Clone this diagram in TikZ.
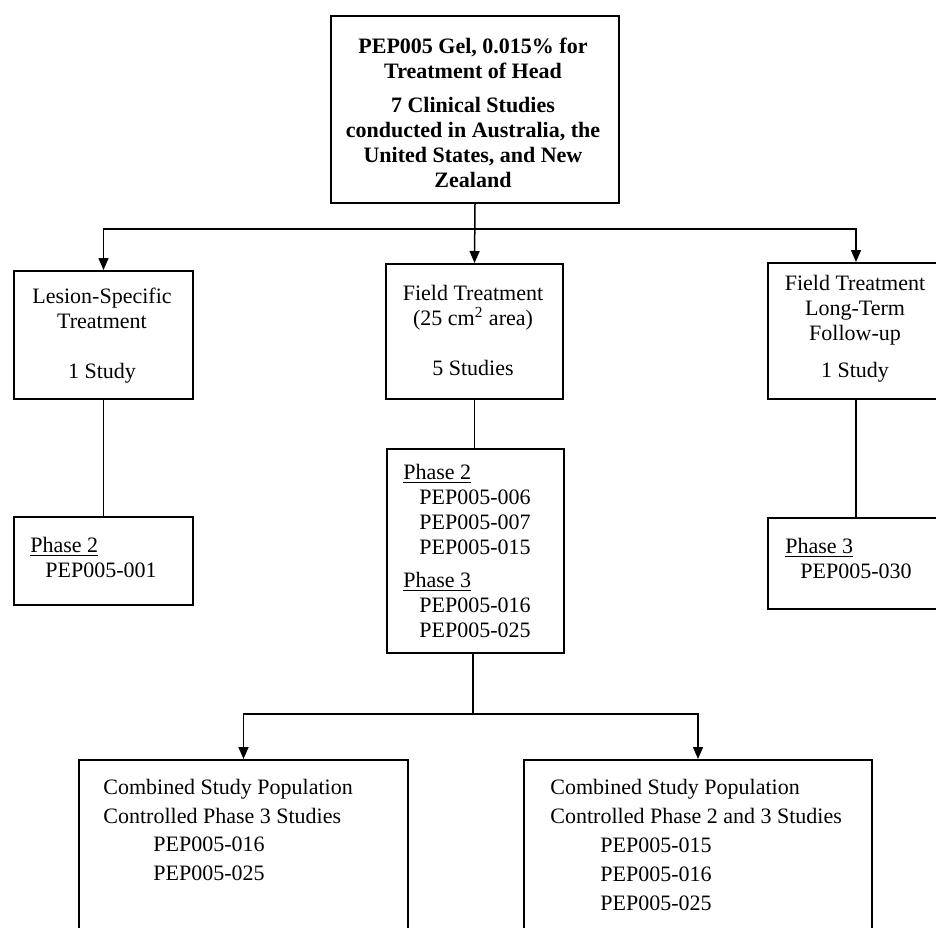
\documentclass[tikz,border=0pt]{standalone}
\usepackage{fontspec}
\setmainfont{Liberation Serif}
\usetikzlibrary{arrows.meta}
\begin{document}
\begin{tikzpicture}[x=0.5pt,y=-0.5pt,
  box/.style={draw=black,line width=1pt,rectangle,inner sep=0pt,anchor=north west},
  txt/.style={inner sep=0pt,font=\fontsize{11pt}{12.5pt}\selectfont},
  btxt/.style={inner sep=0pt,font=\fontsize{11pt}{14.4pt}\selectfont},
  conn/.style={draw=black,line width=0.75pt},
  arr/.style={conn,-{Triangle[width=5pt,length=6pt]}}]
\useasboundingbox (0,0) rectangle (936,927);
\begin{scope}
\clip (0,0) rectangle (936,927);
% boxes
\node[box,minimum width=288pt*0.5,minimum height=187pt*0.5] (top) at (330,15) {};
\node[box,minimum width=179pt*0.5,minimum height=128pt*0.5] (lbox) at (13,270) {};
\node[box,minimum width=179pt*0.5,minimum height=88pt*0.5] (lphase) at (13,516) {};
\node[box,minimum width=177pt*0.5,minimum height=135pt*0.5] (mbox) at (385,263) {};
\node[box,minimum width=177pt*0.5,minimum height=204pt*0.5] (mphase) at (386,448) {};
\node[box,minimum width=176pt*0.5,minimum height=136pt*0.5] (rbox) at (767,262) {};
\node[box,minimum width=176pt*0.5,minimum height=91pt*0.5] (rphase) at (767,517) {};
\node[box,minimum width=329pt*0.5,minimum height=200pt*0.5] (bl) at (78,759) {};
\node[box,minimum width=348pt*0.5,minimum height=200pt*0.5] (br) at (523,759) {};
% texts
\node[txt,align=center,font=\fontsize{11pt}{12.5pt}\selectfont\bfseries] (toptxt) at (473,113)
  {PEP005 Gel, 0.015\% for\\Treatment of Head\\[4.5pt]7 Clinical Studies\\conducted in Australia, the\\United States, and New\\Zealand};
\node[txt,align=center] (ltxt) at (102,336) {Lesion-Specific\\Treatment\\[12.5pt]1 Study};
\node[txt,align=center] (mtxt) at (473,330) {Field Treatment\\(25 cm\textsuperscript{2} area)\\[12.5pt]5 Studies};
\node[txt,align=center] (rtxt) at (855,329) {Field Treatment\\Long-Term\\Follow-up\\[6pt]1 Study};
\node[txt,align=left,anchor=west] (lptxt) at (30,557) {\underline{Phase 2}\\\hspace*{7.5pt}PEP005-001};
\node[txt,align=left,anchor=west] (mptxt) at (403,551) {\underline{Phase 2}\\\hspace*{8pt}PEP005-006\\\hspace*{8pt}PEP005-007\\\hspace*{8pt}PEP005-015\\[4pt]\underline{Phase 3}\\\hspace*{8pt}PEP005-016\\\hspace*{8pt}PEP005-025};
\node[txt,align=left,anchor=west] (rptxt) at (785,558) {\underline{Phase 3}\\\hspace*{7.5pt}PEP005-030};
\node[btxt,align=left,anchor=west] (bltxt) at (103,830) {Combined Study Population\\Controlled Phase 3 Studies\\\hspace*{25pt}PEP005-016\\\hspace*{25pt}PEP005-025};
\node[btxt,align=left,anchor=west] (brtxt) at (550,845) {Combined Study Population\\Controlled Phase 2 and 3 Studies\\\hspace*{25pt}PEP005-015\\\hspace*{25pt}PEP005-016\\\hspace*{25pt}PEP005-025};
% connectors
\coordinate (split) at (473,229);
\coordinate (split2) at (473,714);
\draw[arr] (top.south) -- (mbox.north);
\draw[arr] (split) -| (lbox.north);
\draw[arr] (split) -| (rbox.north);
\draw[conn] (lbox.south) -- (lphase.north);
\draw[conn] (mbox.south) -- (mbox.south |- mphase.north);
\draw[conn] (rbox.south) -- (rphase.north);
\draw[conn] (split2 |- mphase.south) -- (split2);
\draw[arr] (split2) -| (bl.north);
\draw[arr] (split2) -| (br.north);
\end{scope}
\end{tikzpicture}
\end{document}
